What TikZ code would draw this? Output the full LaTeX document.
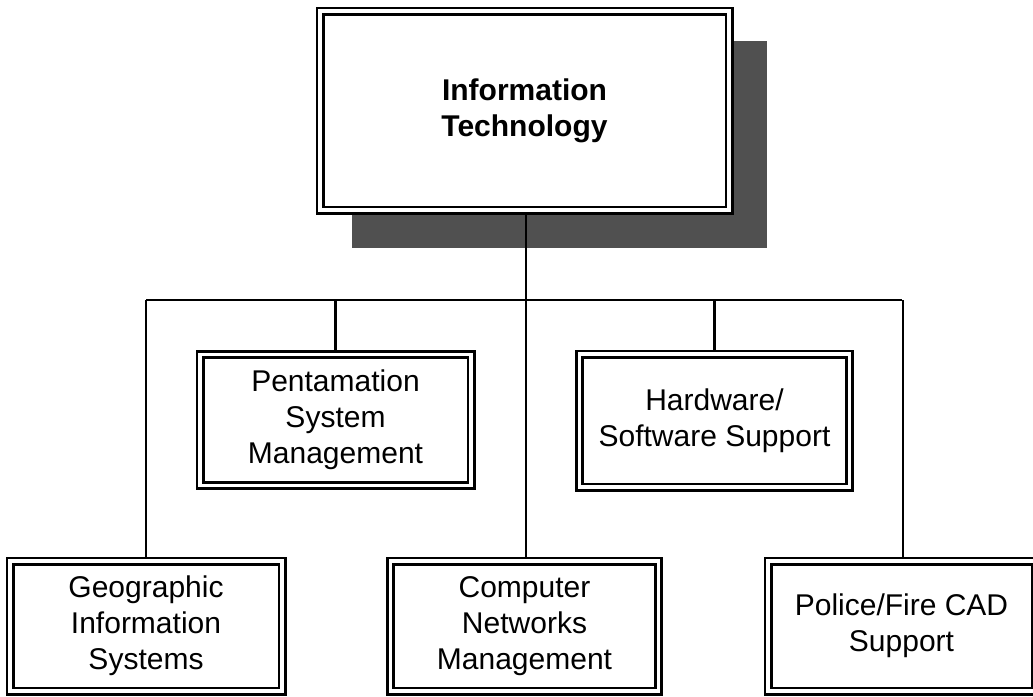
\documentclass[tikz,border=0pt]{standalone}
\usepackage{fontspec}
\setmainfont{Liberation Sans}
\usetikzlibrary{backgrounds}
\definecolor{shadowgray}{HTML}{505050}
\begin{document}
\begin{tikzpicture}[x=1pt,y=-1pt,
  box/.style={draw, double, double distance=3.8pt, line width=2.6pt, fill=white,
    align=center, font=\fontsize{30}{36}\selectfont, inner sep=0pt},
  conn/.style={line width=2.8pt}]
\useasboundingbox (0,0) rectangle (1033,696);
\node[box, minimum width=409pt, minimum height=199pt, font=\fontsize{30}{36}\selectfont\bfseries] (top) at (524.5,110.5) {Information\\Technology};
\node[box, minimum width=271pt, minimum height=131pt] (pent) at (335.5,420) {Pentamation\\System\\Management};
\node[box, minimum width=270pt, minimum height=133pt] (hard) at (714.5,420.5) {Hardware/\\Software Support};
\node[box, minimum width=272pt, minimum height=130pt] (geo) at (146,626) {Geographic\\Information\\Systems};
\node[box, minimum width=268pt, minimum height=130pt] (comp) at (524.5,626) {Computer\\Networks\\Management};
\node[box, minimum width=267pt, minimum height=130pt] (police) at (901.5,626) {Police/Fire CAD\\Support};
\coordinate (bus) at (526,300);
\coordinate (topout) at (526,210);
\begin{scope}[on background layer]
  \fill[shadowgray] (352,41) rectangle (767,248);
  \draw[conn] (topout) -- (bus);
  \draw[conn] (geo.north |- bus) -- (police.north |- bus);
  \draw[conn] (geo.north |- bus) -- (geo.north);
  \draw[conn] (pent.north |- bus) -- (pent.north);
  \draw[conn] (bus) -- (comp.north -| bus);
  \draw[conn] (hard.north |- bus) -- (hard.north);
  \draw[conn] (903,300) -- (police.north -| 903,0);
\end{scope}
\end{tikzpicture}
\end{document}
